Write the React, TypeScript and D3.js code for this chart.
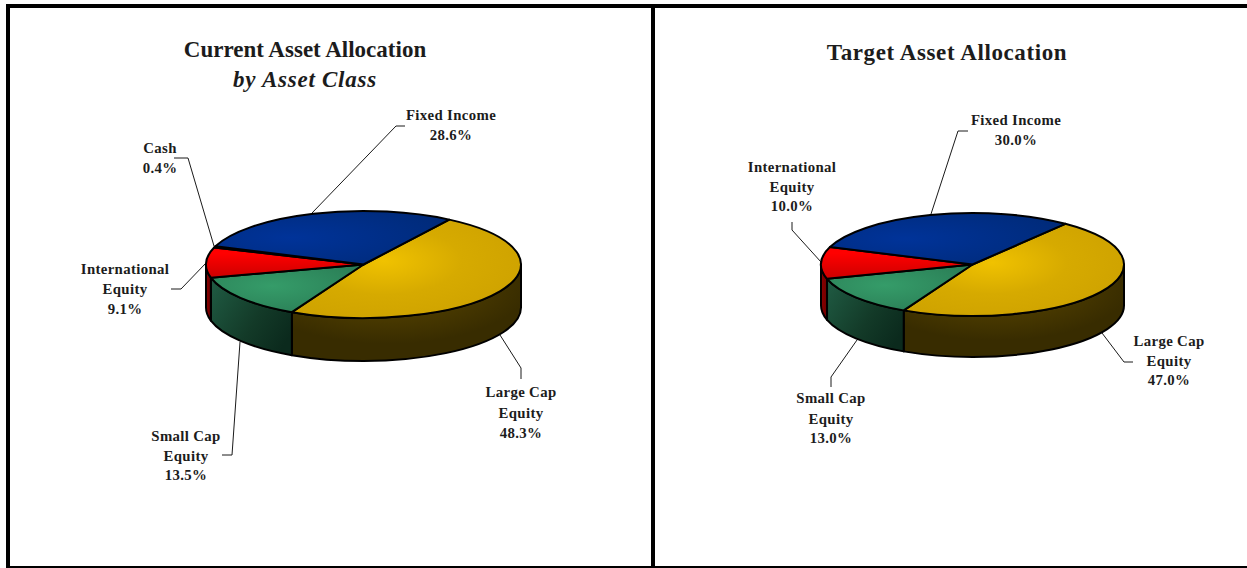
import React from "react";
import * as d3 from "d3";

const WIDTH = 1247;
const HEIGHT = 568;

const currentCategories = ["Large Cap Equity", "Small Cap Equity", "International Equity", "Cash", "Fixed Income"];
const currentValues = [48.3, 13.5, 9.1, 0.4, 28.6];
const targetCategories = ["Large Cap Equity", "Small Cap Equity", "International Equity", "Fixed Income"];
const targetValues = [47.0, 13.0, 10.0, 30.0];

const sliceKeys: Record<string, string> = {
  "Large Cap Equity": "yellow",
  "Small Cap Equity": "green",
  "International Equity": "red",
  "Cash": "cash",
  "Fixed Income": "blue",
};

const FONT = "'Liberation Serif', serif";
const TEXT = "#1c1c1c";
const deg = Math.PI / 180;

type Label = { lines: string[]; x: number; y: number[]; leader: [number, number][] };

const currentLabels: Label[] = [
  { lines: ["Fixed Income", "28.6%"], x: 451, y: [120, 140], leader: [[405, 126], [396, 126], [312, 213]] },
  { lines: ["Cash", "0.4%"], x: 160, y: [153, 173], leader: [[174, 158], [188, 158], [214, 246]] },
  { lines: ["International", "Equity", "9.1%"], x: 125, y: [274, 294, 314], leader: [[171, 289], [181, 289], [206, 263]] },
  { lines: ["Small Cap", "Equity", "13.5%"], x: 186, y: [441, 461, 480], leader: [[222, 455], [232, 455], [240, 342]] },
  { lines: ["Large Cap", "Equity", "48.3%"], x: 521, y: [397, 418, 438], leader: [[500, 335], [521, 368], [521, 379]] },
];

const targetLabels: Label[] = [
  { lines: ["Fixed Income", "30.0%"], x: 1016, y: [125, 145], leader: [[968, 131], [958, 131], [931, 214]] },
  { lines: ["International", "Equity", "10.0%"], x: 792, y: [172, 192, 211], leader: [[792, 222], [792, 230], [821, 262]] },
  { lines: ["Small Cap", "Equity", "13.0%"], x: 831, y: [403, 424, 443], leader: [[831, 387], [831, 377], [857, 340]] },
  { lines: ["Large Cap", "Equity", "47.0%"], x: 1169, y: [346, 366, 385], leader: [[1133, 362], [1124, 362], [1102, 333]] },
];

function Pie3D(props: {
  categories: string[];
  values: number[];
  start: number;
  cx: number;
  cy: number;
  rx: number;
  ry: number;
  depth: number;
}) {
  const { categories, values, start, cx, cy, rx, ry, depth } = props;
  const slices = d3
    .pie<number>()
    .sort(null)
    .startAngle(start * deg)
    .endAngle(start * deg + 2 * Math.PI)(values);
  const arc = d3.arc<d3.PieArcDatum<number>>().innerRadius(0).outerRadius(rx);
  const px = (a: number) => cx + rx * Math.sin(a);
  const py = (a: number) => cy - ry * Math.cos(a);

  const walls = slices
    .map((s, i) => {
      const a0 = Math.max(s.startAngle, Math.PI / 2);
      const a1 = Math.min(s.endAngle, (3 * Math.PI) / 2);
      if (a1 <= a0) return null;
      const d =
        `M${px(a0)},${py(a0)}` +
        `A${rx},${ry} 0 0 1 ${px(a1)},${py(a1)}` +
        `L${px(a1)},${py(a1) + depth}` +
        `A${rx},${ry} 0 0 0 ${px(a0)},${py(a0) + depth}Z`;
      return <path key={i} d={d} fill={`url(#side-${sliceKeys[categories[i]]})`} stroke="#000" strokeWidth={2} strokeLinejoin="round" />;
    })
    .filter(Boolean);

  return (
    <g>
      {walls}
      <g transform={`translate(${cx},${cy}) scale(1,${ry / rx})`}>
        {slices.map((s, i) => (
          <path
            key={i}
            d={arc(s) as string}
            fill={`url(#top-${sliceKeys[categories[i]]})`}
            stroke="#000"
            strokeWidth={2}
            strokeLinejoin="round"
            vectorEffect="non-scaling-stroke"
          />
        ))}
      </g>
    </g>
  );
}

function Labels({ items }: { items: Label[] }) {
  const line = d3.line();
  return (
    <g>
      {items.map((l, i) => (
        <g key={i}>
          <path d={line(l.leader) as string} fill="none" stroke="#1a1a1a" strokeWidth={1} />
          {l.lines.map((t, j) => (
            <text key={j} x={l.x} y={l.y[j]} textAnchor="middle" fontFamily={FONT} fontWeight="bold" fontSize={14.8} letterSpacing={0.35} fill={TEXT}>
              {t}
            </text>
          ))}
        </g>
      ))}
    </g>
  );
}

export default function App() {
  return (
    <svg width={WIDTH} height={HEIGHT} style={{ position: "absolute", left: 0, top: 0, display: "block", background: "#fff" }}>
      <defs>
        <radialGradient id="top-yellow" cx="0.4" cy="0.42" r="0.62">
          <stop offset="0" stopColor="#f0c200" />
          <stop offset="0.55" stopColor="#d6aa00" />
          <stop offset="1" stopColor="#cfa300" />
        </radialGradient>
        <radialGradient id="top-blue" cx="0.32" cy="0.5" r="0.75">
          <stop offset="0" stopColor="#003399" />
          <stop offset="1" stopColor="#002a78" />
        </radialGradient>
        <linearGradient id="top-red" x1="0" y1="0" x2="0" y2="1">
          <stop offset="0.2" stopColor="#ff0000" />
          <stop offset="1" stopColor="#cc0000" />
        </linearGradient>
        <radialGradient id="top-green" cx="0.4" cy="0.45" r="0.7">
          <stop offset="0" stopColor="#359c69" />
          <stop offset="1" stopColor="#2a7c55" />
        </radialGradient>
        <linearGradient id="top-cash" x1="0" y1="0" x2="0" y2="1">
          <stop offset="0" stopColor="#000" />
          <stop offset="1" stopColor="#000" />
        </linearGradient>
        <radialGradient id="side-yellow" cx="0.42" cy="0.2" r="0.62">
          <stop offset="0" stopColor="#5f4a00" />
          <stop offset="0.55" stopColor="#4a3a00" />
          <stop offset="1" stopColor="#382c00" />
        </radialGradient>
        <linearGradient id="side-green" x1="0" y1="0.1" x2="1" y2="0.7">
          <stop offset="0" stopColor="#1f5a42" />
          <stop offset="0.6" stopColor="#133a28" />
          <stop offset="1" stopColor="#0b2a1d" />
        </linearGradient>
        <linearGradient id="side-red" x1="0" y1="0" x2="1" y2="0">
          <stop offset="0" stopColor="#8a0000" />
          <stop offset="1" stopColor="#700000" />
        </linearGradient>
        <linearGradient id="side-cash" x1="0" y1="0" x2="0" y2="1">
          <stop offset="0" stopColor="#000" />
          <stop offset="1" stopColor="#000" />
        </linearGradient>
        <linearGradient id="side-blue" x1="0" y1="0" x2="0" y2="1">
          <stop offset="0" stopColor="#001a55" />
          <stop offset="1" stopColor="#001a55" />
        </linearGradient>
      </defs>

      {/* frame */}
      <rect x={6} y={4} width={WIDTH - 6} height={4} fill="#000" />
      <rect x={6} y={4} width={4} height={HEIGHT - 4} fill="#000" />
      <rect x={651} y={4} width={4} height={HEIGHT - 4} fill="#000" />
      <rect x={6} y={566} width={WIDTH - 6} height={2} fill="#000" />

      {/* titles */}
      <text x={305} y={57} textAnchor="middle" fontFamily={FONT} fontWeight="bold" fontSize={23} fill={TEXT}>
        Current Asset Allocation
      </text>
      <text x={305} y={87} textAnchor="middle" fontFamily={FONT} fontWeight="bold" fontStyle="italic" fontSize={23} letterSpacing={0.75} fill={TEXT}>
        by Asset Class
      </text>
      <text x={947} y={60} textAnchor="middle" fontFamily={FONT} fontWeight="bold" fontSize={23} letterSpacing={0.6} fill={TEXT}>
        Target Asset Allocation
      </text>

      <Labels items={currentLabels} />
      <Labels items={targetLabels} />

      <Pie3D categories={currentCategories} values={currentValues} start={33} cx={363.5} cy={264.5} rx={157.5} ry={53.5} depth={43} />
      <Pie3D categories={targetCategories} values={targetValues} start={37.8} cx={972.5} cy={264.5} rx={151.5} ry={51.5} depth={41} />
    </svg>
  );
}
